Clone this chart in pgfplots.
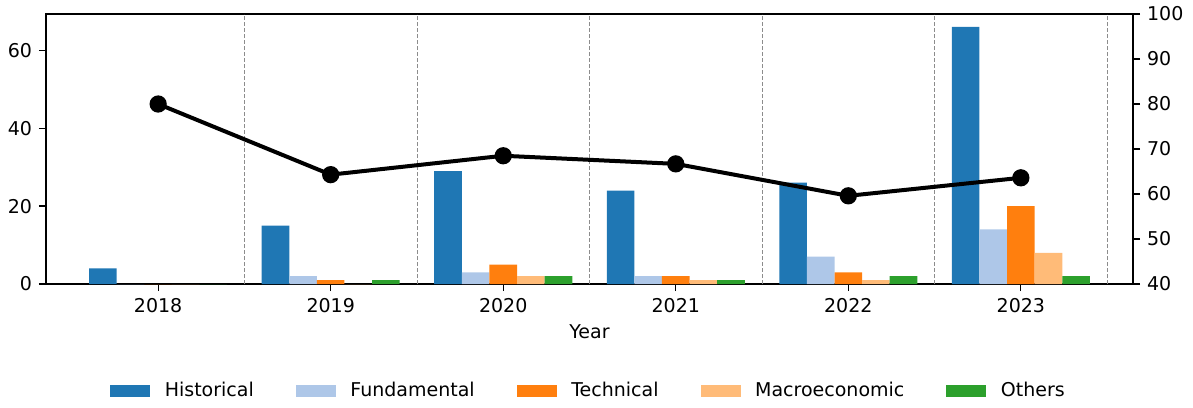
\documentclass[border=0pt]{standalone}
\usepackage{fontspec}
\setmainfont{DejaVu Sans}
\usepackage{pgfplots}
\usepackage{pgfplotstable}
\pgfplotsset{compat=1.18}
\usetikzlibrary{calc}
\definecolor{c1}{HTML}{1F77B4}
\definecolor{c2}{HTML}{AEC7E8}
\definecolor{c3}{HTML}{FF7F0E}
\definecolor{c4}{HTML}{FFBB78}
\definecolor{c5}{HTML}{2CA02C}
\pgfplotstableread{
x hist fund tech macro oth
0 4 0 0 0 0
1 15 2 1 0 1
2 29 3 5 2 2
3 24 2 2 1 1
4 26 7 3 1 2
5 66 14 20 8 2
}\bars
\pgfplotstableread{
x acc
0 80
1 64.3
2 68.5
3 66.7
4 59.6
5 63.6
}\lineData
\begin{document}
\begin{tikzpicture}[font=\fontsize{9.5}{11.5}\selectfont]
\begin{axis}[name=main, scale only axis, width=543.5pt, height=135pt,
 xmin=-0.65, xmax=5.65, ymin=0, ymax=69.3,
 xtick={0,1,2,3,4,5}, xticklabels={2018,2019,2020,2021,2022,2023},
 ytick={0,20,40,60},
 xtick pos=left, ytick pos=left, tick align=outside,
 major tick length=3.5pt,
 axis line style={line width=0.6pt},
 tick style={line width=0.6pt, black},
 extra x ticks={0.5,1.5,2.5,3.5,4.5,5.5}, extra x tick labels={},
 extra x tick style={grid=major, major tick length=0pt, grid style={dash pattern=on 2pt off 1pt, black!45, line width=0.45pt}},
 xlabel={Year},
 xlabel style={at={(axis description cs:0.5,-0.178)}, anchor=center, font=\fontsize{9.5}{11.5}\selectfont},
 /pgf/number format/assume math mode=true,
 tick label style={font=\fontsize{9.5}{11.5}\selectfont},
 ybar, bar width=0.16,
 legend style={draw=none, at={(0.5,-0.396)}, anchor=center, legend columns=5,
   font=\fontsize{9.5}{11.5}\selectfont,
   /tikz/every odd column/.append style={column sep=5.3pt},
   /tikz/every even column/.append style={column sep=19pt}},
 legend image code/.code={\fill[#1] (0pt,-3.2pt) rectangle (20pt,3.2pt);},
]
\addplot[fill=c1, draw=none, bar shift=-0.32] table[x=x,y=hist]{\bars};
\addlegendentry{Historical}
\addplot[fill=c2, draw=none, bar shift=-0.16] table[x=x,y=fund]{\bars};
\addlegendentry{Fundamental}
\addplot[fill=c3, draw=none, bar shift=0] table[x=x,y=tech]{\bars};
\addlegendentry{Technical}
\addplot[fill=c4, draw=none, bar shift=0.16] table[x=x,y=macro]{\bars};
\addlegendentry{Macroeconomic}
\addplot[fill=c5, draw=none, bar shift=0.32] table[x=x,y=oth]{\bars};
\addlegendentry{Others}
\end{axis}
\begin{axis}[scale only axis, width=543.5pt, height=135pt,
 xmin=-0.65, xmax=5.65, ymin=40, ymax=100,
 axis x line=none, axis y line*=right,
 ytick={40,50,60,70,80,90,100},
 tick align=outside, major tick length=3.5pt,
 axis line style={line width=0.6pt},
 tick style={line width=0.6pt, black},
 /pgf/number format/assume math mode=true,
 tick label style={font=\fontsize{9.5}{11.5}\selectfont},
]
\addplot[black, line width=2pt, mark=*, mark size=3.3pt] table[x=x,y=acc]{\lineData};
\end{axis}
\path ($(main.south west)+(-23pt,-60.5pt)$) rectangle ($(main.north east)+(30pt,7pt)$);
\end{tikzpicture}
\end{document}
